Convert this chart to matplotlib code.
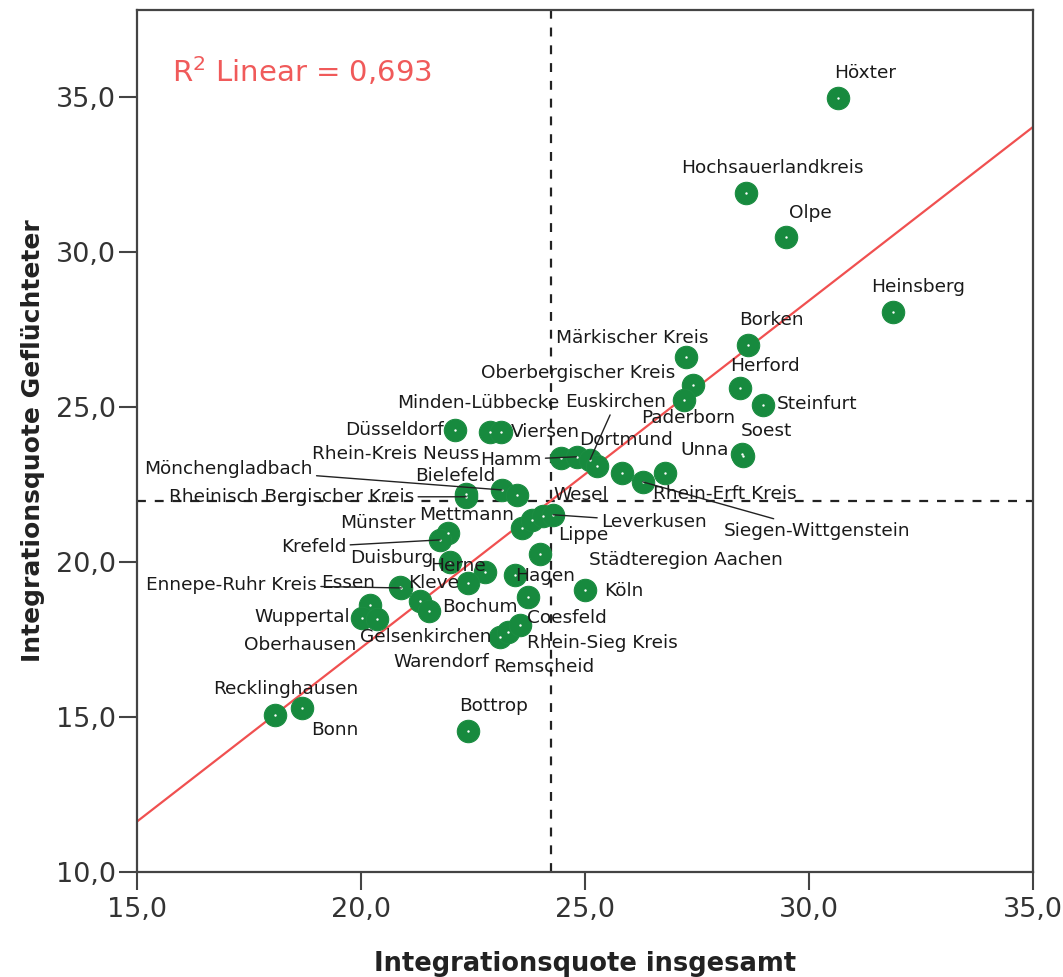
import numpy as np
import matplotlib
matplotlib.use("Agg")
import matplotlib.pyplot as plt
from matplotlib.ticker import FuncFormatter, MultipleLocator

# Integrationsquoten je Kreis / kreisfreie Stadt (NRW)
names = [
    "Höxter", "Hochsauerlandkreis", "Olpe", "Heinsberg", "Borken",
    "Märkischer Kreis", "Oberbergischer Kreis", "Paderborn", "Herford", "Steinfurt",
    "Soest", "Unna", "Düsseldorf", "Minden-Lübbecke", "Viersen",
    "", "Hamm", "Euskirchen", "Dortmund", "",
    "Siegen-Wittgenstein", "Rhein-Erft Kreis", "Bielefeld", "Rheinisch Bergischer Kreis", "Mönchengladbach",
    "Rhein-Kreis Neuss", "Mettmann", "Wesel", "Lippe", "Leverkusen",
    "Münster", "Krefeld", "Duisburg", "Herne", "",
    "Städteregion Aachen", "Hagen", "Köln", "Essen", "Ennepe-Ruhr Kreis",
    "Kleve", "Bochum", "Coesfeld", "Wuppertal", "Oberhausen",
    "Gelsenkirchen", "Warendorf", "Remscheid", "Rhein-Sieg Kreis", "Recklinghausen",
    "Bonn", "Bottrop",
]
quote_gesamt = [
    30.64, 28.59, 29.48, 31.87, 28.63,
    27.25, 27.41, 27.21, 28.46, 28.97,
    28.51, 28.53, 22.10, 22.88, 23.13,
    24.46, 24.81, 25.11, 25.27, 25.83,
    26.29, 26.78, 22.35, 22.35, 23.15,
    23.48, 23.60, 23.82, 24.06, 24.29,
    21.95, 21.77, 21.99, 22.77, 22.39,
    24.00, 23.44, 25.00, 20.88, 20.90,
    21.32, 21.52, 23.73, 20.21, 20.03,
    20.36, 23.10, 23.28, 23.55, 18.09,
    18.69, 22.39,
]
quote_gefluechtete = [
    34.97, 31.90, 30.48, 28.06, 27.00,
    26.61, 25.71, 25.23, 25.61, 25.06,
    23.48, 23.42, 24.26, 24.19, 24.19,
    23.35, 23.39, 23.29, 23.10, 22.87,
    22.58, 22.87, 22.19, 22.10, 22.32,
    22.16, 21.10, 21.35, 21.48, 21.52,
    20.94, 20.71, 20.00, 19.68, 19.32,
    20.26, 19.58, 19.10, 19.19, 19.16,
    18.74, 18.42, 18.87, 18.61, 18.19,
    18.16, 17.58, 17.74, 17.97, 15.06,
    15.29, 14.55,
]
r2_linear = 0.693
fit_slope = 1.12  # slope of the linear fit line (passes through the means)

# label placement: offset in pixels (right, down) from the point, leader line flag
label_pos = {
    "Höxter": (27, -25, False), "Hochsauerlandkreis": (27, -25, False),
    "Olpe": (25, -24, False), "Heinsberg": (25, -25, False),
    "Borken": (24, -25, False), "Märkischer Kreis": (-54, -19, False),
    "Oberbergischer Kreis": (-115, -12, False), "Paderborn": (4, 18, False),
    "Herford": (25, -22, False), "Steinfurt": (54, -1, False),
    "Soest": (24, -23, False), "Unna": (-39, -6, False),
    "Düsseldorf": (-61, 0, False), "Minden-Lübbecke": (-12, -29, False),
    "Viersen": (44, 0, False), "Hamm": (-66, 3, True),
    "Euskirchen": (26, -58, True), "Dortmund": (29, -26, False),
    "Siegen-Wittgenstein": (174, 49, True), "Rhein-Erft Kreis": (60, 21, False),
    "Bielefeld": (-11, -18, False), "Rheinisch Bergischer Kreis": (-175, 0, True),
    "Mönchengladbach": (-274, -21, True), "Rhein-Kreis Neuss": (-121, -41, False),
    "Mettmann": (-56, -13, False), "Wesel": (49, -25, False),
    "Lippe": (40, 19, False), "Leverkusen": (101, 7, True),
    "Münster": (-71, -10, False), "Krefeld": (-127, 7, True),
    "Duisburg": (-58, -4, False), "Herne": (-27, -6, False),
    "Städteregion Aachen": (146, 6, False), "Hagen": (30, 1, False),
    "Köln": (39, 1, False), "Essen": (-52, -4, False),
    "Ennepe-Ruhr Kreis": (-170, -3, True), "Kleve": (13, -18, False),
    "Bochum": (51, -4, False), "Coesfeld": (39, 21, False),
    "Wuppertal": (-68, 12, False), "Oberhausen": (-62, 27, False),
    "Gelsenkirchen": (49, 18, False), "Warendorf": (-59, 25, False),
    "Remscheid": (36, 35, False), "Rhein-Sieg Kreis": (82, 18, False),
    "Recklinghausen": (10, -26, False), "Bonn": (32, 22, False),
    "Bottrop": (25, -25, False),
}

x = np.array(quote_gesamt)
y = np.array(quote_gefluechtete)

fig = plt.figure(figsize=(10.63, 9.77), dpi=100)
ax = fig.add_axes([0.1289, 0.1075, 0.8429, 0.8823])

ax.set_xlim(15, 35)
ax.set_ylim(10, 37.8)

# mean reference lines
ax.axvline(x.mean(), color="#222222", lw=1.6, ls=(0, (4, 4)), zorder=1)
ax.axhline(y.mean(), color="#222222", lw=1.6, ls=(0, (4, 4)), zorder=1)

# linear fit line through the means
xs = np.array([15, 35])
ax.plot(xs, y.mean() + fit_slope * (xs - x.mean()), color="#f05050", lw=1.6, zorder=2)

ax.scatter(x, y, s=260, color="#178a3e", edgecolors="#1c8d42", linewidths=0.8, zorder=3)
ax.scatter(x, y, s=3, color="white", linewidths=0, zorder=4)

for name, xi, yi in zip(names, x, y):
    if not name:
        continue
    dx, dy, leader = label_pos[name]
    arrow = None
    if leader:
        arrow = dict(arrowstyle="-", color="#222222", lw=1.0, shrinkA=1, shrinkB=0)
    ax.annotate(name, (xi, yi), xytext=(dx, -dy), textcoords="offset pixels",
                ha="center", va="center", fontsize=13.3, color="#1a1a1a",
                arrowprops=arrow, zorder=5)

ax.text(0.039, 0.928, "R$^2$ Linear = %s" % ("%.3f" % r2_linear).replace(".", ","),
        transform=ax.transAxes, fontsize=21, color="#f05a5a", ha="left", va="center")

fmt = FuncFormatter(lambda v, pos: ("%.1f" % v).replace(".", ","))
ax.xaxis.set_major_locator(MultipleLocator(5))
ax.yaxis.set_major_locator(MultipleLocator(5))
ax.xaxis.set_major_formatter(fmt)
ax.yaxis.set_major_formatter(fmt)
ax.tick_params(axis="both", direction="out", length=13, width=1.5, color="#444444",
               labelsize=19.5, labelcolor="#333333")
ax.tick_params(axis="x", pad=5)
ax.tick_params(axis="y", pad=2)

for sp in ax.spines.values():
    sp.set_color("#444444")
    sp.set_linewidth(1.6)

ax.set_xlabel("Integrationsquote insgesamt", fontsize=18.5, fontweight="bold",
              color="#222222", labelpad=20)
ax.set_ylabel("Integrationsquote Geflüchteter", fontsize=18, fontweight="bold",
              color="#222222", labelpad=8)

fig.savefig("out.png", dpi=100)
